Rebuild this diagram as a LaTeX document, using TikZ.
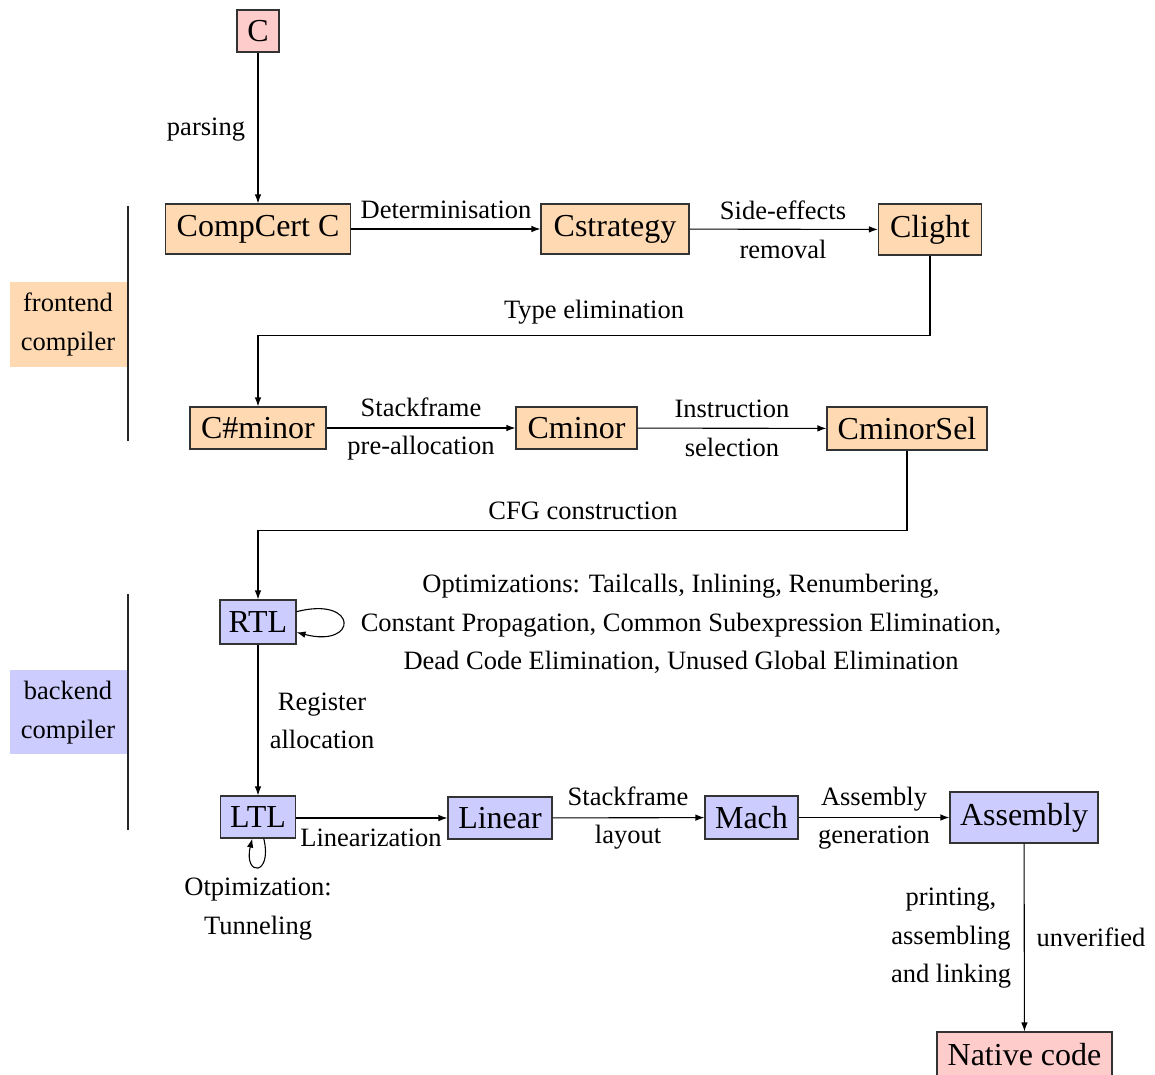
\documentclass[tikz,border=0pt]{standalone}
\usepackage{fontspec}
\setmainfont{Liberation Serif}
\usetikzlibrary{arrows.meta}
\definecolor{boxorange}{RGB}{255,217,178}
\definecolor{boxpink}{RGB}{255,204,204}
\definecolor{boxblue}{RGB}{204,204,255}
\begin{document}
\begin{tikzpicture}[x=1pt,y=-1pt,
  box/.style={draw=black!80, line width=1.1pt, inner sep=0pt, font=\fontsize{32}{38}\selectfont},
  obox/.style={box, fill=boxorange},
  pbox/.style={box, fill=boxpink},
  bbox/.style={box, fill=boxblue},
  lbl/.style={font=\fontsize{26.5}{39}\selectfont, inner sep=0pt, anchor=base},
  arr/.style={-{Latex[length=9pt,width=6.5pt]}, line width=1.1pt},
  bar/.style={line width=1.2pt, black!85}]
\useasboundingbox (0,0) rectangle (1155,1074);

% side bands
\node[fill=boxorange, minimum width=118pt, minimum height=85pt, inner sep=0pt] (feband) at (69,324.5) {};
\node[fill=boxblue, minimum width=118pt, minimum height=84pt, inner sep=0pt] (beband) at (69,712) {};
\node[lbl] (fe1) at (68,311) {frontend};
\node[lbl] (fe2) at (68,350) {compiler};
\node[lbl] (be1) at (68,699) {backend};
\node[lbl] (be2) at (68,738) {compiler};
\coordinate (fetop) at (128,206);
\coordinate (febot) at (128,441);
\coordinate (betop) at (128,594);
\coordinate (bebot) at (128,830);
\draw[bar] (fetop) -- (febot);
\draw[bar] (betop) -- (bebot);

% boxes
\node[pbox, minimum width=42pt, minimum height=42pt] (c) at (258,31) {C};
\node[obox, minimum width=185pt, minimum height=50pt] (ccc) at (258,229) {CompCert C};
\node[obox, minimum width=148pt, minimum height=50pt] (cstrat) at (615,229) {Cstrategy};
\node[obox, minimum width=103pt, minimum height=51pt] (clight) at (930,229.5) {Clight};
\node[obox, minimum width=136pt, minimum height=42pt] (csharp) at (258,428) {C\#minor};
\node[obox, minimum width=121pt, minimum height=42pt] (cminor) at (576.5,428) {Cminor};
\node[obox, minimum width=160pt, minimum height=43pt] (csel) at (907,428.5) {CminorSel};
\node[bbox, minimum width=76pt, minimum height=44pt] (rtl) at (258,622) {RTL};
\node[bbox, minimum width=75pt, minimum height=42pt] (ltl) at (258,817) {LTL};
\node[bbox, minimum width=104pt, minimum height=42pt] (linear) at (500,818) {Linear};
\node[bbox, minimum width=93pt, minimum height=43pt] (mach) at (751.5,817.5) {Mach};
\node[bbox, minimum width=148pt, minimum height=51pt] (asm) at (1024,817.5) {Assembly};
\node[pbox, minimum width=175pt, minimum height=46pt] (native) at (1024.5,1055) {Native code};

% connectors
\draw[arr] (c) -- (ccc);
\draw[arr] (ccc) -- (cstrat);
\draw[arr] (cstrat) -- (clight);
\draw[arr] (clight.south) -- ++(0,80) -| (csharp.north);
\draw[arr] (csharp) -- (cminor);
\draw[arr] (cminor) -- (csel);
\draw[arr] (csel.south) -- ++(0,80) -| (rtl.north);
\draw[arr] (rtl.15) .. controls +(62,-16) and +(62,16) .. (rtl.-15);
\draw[arr] (rtl) -- (ltl);
\draw[arr] (ltl.-75) .. controls +(9,38) and +(-9,38) .. (ltl.-105);
\draw[arr] (ltl.east |- linear) -- (linear);
\draw[arr] (linear) -- (mach);
\draw[arr] (mach) -- (asm);
\draw[arr] (asm) -- (native);

% labels
\node[lbl] (l1) at (206,135) {parsing};
\node[lbl] (l2) at (446,218) {Determinisation};
\node[lbl] (l3a) at (783,219) {Side-effects};
\node[lbl] (l3b) at (783,258) {removal};
\node[lbl] (l4) at (594,318) {Type elimination};
\node[lbl] (l5a) at (421,416) {Stackframe};
\node[lbl] (l5b) at (421,454) {pre-allocation};
\node[lbl] (l6a) at (732,417) {Instruction};
\node[lbl] (l6b) at (732,456) {selection};
\node[lbl] (l7) at (583,519) {CFG construction};
\node[lbl] (o1) at (681,592) {Optimizations: Tailcalls, Inlining, Renumbering,};
\node[lbl] (o2) at (681,631) {Constant Propagation, Common Subexpression Elimination,};
\node[lbl] (o3) at (681,669) {Dead Code Elimination, Unused Global Elimination};
\node[lbl] (r1) at (322,710) {Register};
\node[lbl] (r2) at (322,748) {allocation};
\node[lbl] (lin) at (371,846) {Linearization};
\node[lbl] (t1) at (258,895) {Otpimization:};
\node[lbl] (t2) at (258,934) {Tunneling};
\node[lbl] (s1) at (628,805) {Stackframe};
\node[lbl] (s2) at (628,843) {layout};
\node[lbl] (g1) at (874,805) {Assembly};
\node[lbl] (g2) at (874,843) {generation};
\node[lbl] (p1) at (951,905) {printing,};
\node[lbl] (p2) at (951,944) {assembling};
\node[lbl] (p3) at (951,982) {and linking};
\node[lbl] (u) at (1091,946) {unverified};
\end{tikzpicture}
\end{document}
